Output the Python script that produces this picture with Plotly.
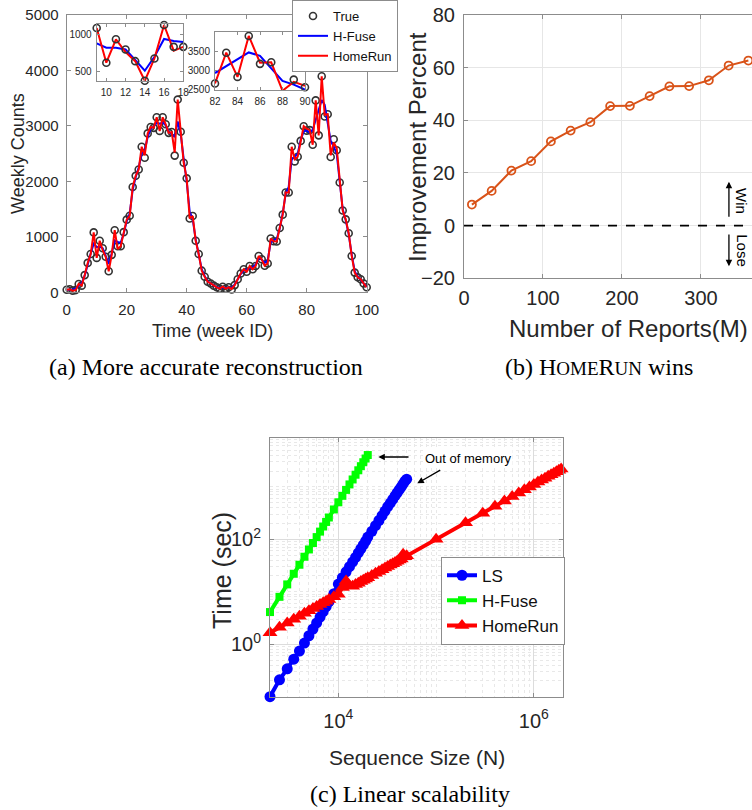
import plotly.graph_objects as go

W, H = 752, 810

# ---------------- data: panel (a) ----------------
weeks = list(range(101))
true_counts = [45, 55, 30, 40, 150, 120, 310, 530, 690, 1080,
               620, 930, 795, 640, 380, 675, 1120, 830, 830, 1085,
               1310, 1380, 1900, 2100, 2215, 2625, 2425, 2865, 2980, 2965,
               3155, 2910, 3155, 3030, 2875, 2890, 2465, 3475, 2895, 2335,
               2055, 1330, 1375, 930, 690, 390, 280, 190, 160, 120,
               90, 65, 100, 65, 90, 50, 130, 235, 340, 415,
               370, 475, 415, 475, 655, 595, 480, 520, 970, 920,
               915, 1160, 1400, 1800, 1800, 2625, 2360, 2445, 2730, 2995,
               2915, 2925, 2660, 3460, 2830, 3895, 3170, 3210, 2440, 2760,
               2560, 1980, 1475, 1315, 1065, 655, 355, 270, 235, 160, 90]
hfuse_counts = [45, 45, 50, 70, 120, 160, 300, 520, 700, 876,
                819, 819, 796, 655, 513, 699, 934, 907, 894, 1060,
                1280, 1420, 1850, 2080, 2250, 2500, 2560, 2800, 2950, 2990,
                3060, 3040, 3060, 3010, 2900, 2850, 2800, 3080, 2860, 2400,
                2000, 1450, 1320, 950, 680, 420, 290, 200, 160, 120,
                90, 80, 80, 75, 75, 80, 140, 240, 330, 390,
                410, 440, 450, 500, 620, 590, 530, 580, 900, 940,
                960, 1150, 1420, 1780, 1900, 2400, 2450, 2500, 2750, 2900,
                2920, 2880, 2931, 3103, 3293, 3466, 3379, 3060, 2724, 2629,
                2500, 2000, 1500, 1300, 1050, 680, 380, 280, 230, 160, 100]
homerun_counts = [45, 55, 30, 40, 150, 120, 310, 530, 690, 1080,
                  620, 930, 760, 640, 380, 675, 1120, 780, 830, 1085,
                  1310, 1380, 1900, 2100, 2215, 2625, 2470, 2865, 2980, 2965,
                  3155, 2910, 3155, 3030, 2875, 2890, 2520, 3475, 2895, 2335,
                  2055, 1330, 1375, 930, 690, 390, 280, 190, 160, 120,
                  90, 65, 100, 65, 90, 60, 130, 235, 340, 415,
                  370, 475, 415, 475, 655, 595, 480, 520, 970, 920,
                  915, 1160, 1400, 1800, 1800, 2625, 2400, 2445, 2730, 2995,
                  2950, 2925, 2660, 3460, 2830, 3895, 3200, 3210, 2470, 2700,
                  2600, 1980, 1475, 1315, 1065, 655, 355, 270, 235, 160, 90]
inset1_weeks = (9, 18)
inset2_weeks = (82, 90)

# ---------------- data: panel (b) ----------------
reports_m = [10, 35, 60, 85, 110, 135, 160, 185, 210, 235, 260, 285, 310, 335, 360]
improvement_pct = [8.0, 13.2, 20.9, 24.5, 32.0, 36.1, 39.3, 45.4, 45.5, 49.2,
                   52.9, 53.0, 55.2, 60.8, 62.7]

# ---------------- data: panel (c) ----------------
ls_n = [2000, 2500, 3000, 3500, 4000, 4500, 5000, 5500, 6000, 6500, 7000, 7500,
        8000, 9000, 10000, 11000, 12000, 13000, 14000, 15000, 16000, 17000,
        18000, 19000, 20000, 22000, 24000, 26000, 28000, 30000, 32000, 34000,
        36000, 38000, 40000, 42000, 44000, 46000, 48000, 50000]
ls_time = [0.10, 0.21, 0.34, 0.52, 0.74, 1.05, 1.45, 1.95, 2.55, 3.3, 4.2, 5.2,
           6.4, 9.2, 14, 18.5, 24, 30, 37, 45, 55, 66,
           78, 92, 110, 142, 182, 228, 282, 345, 420, 490,
           575, 670, 770, 880, 1000, 1140, 1280, 1400]
hf_n = [2000, 2500, 3000, 3500, 4000, 4500, 5000, 5500, 6000, 6500, 7000, 7500,
        8000, 9000, 10000, 11000, 12000, 13000, 14000, 15000, 16000, 17000,
        18000, 19000, 20000]
hf_time = [4.1, 8.0, 13.8, 22, 32.7, 46.5, 64, 85, 110, 140, 175, 214,
           260, 370, 507, 673, 873, 1110, 1380, 1700, 2065, 2470,
           2940, 3460, 4030]
hr_n = [2000, 2500, 3000, 3500, 4000, 4500, 5000, 5500, 6000, 6500, 7000, 7500,
        8000, 9000, 10000, 11000, 12000, 13000, 14000, 15000, 16000, 17000,
        18000, 19000, 20000, 22000, 24000, 26000, 28000, 30000, 32000, 34000,
        36000, 38000, 40000, 42000, 44000, 46000, 48000, 50000,
        100000, 200000, 300000, 400000, 500000, 600000, 700000, 800000, 900000,
        1000000, 1100000, 1200000, 1300000, 1400000, 1500000, 1600000, 1700000,
        1800000, 1900000, 2000000]
hr_time = [1.66, 2.10, 2.54, 2.98, 3.43, 3.88, 4.33, 4.79, 5.24, 5.70, 6.16, 6.62,
           7.08, 8.0, 8.95, 12, 16, 13, 12.7, 13.7, 14.6, 15.6,
           16.6, 17.5, 18.5, 20.4, 22.4, 24.3, 26.3, 28.3, 30.3, 32.2,
           34.2, 36.2, 38.2, 40.2, 42.2, 52, 46.2, 48.3,
           100, 206, 315, 426, 538, 650, 764, 879, 995,
           1112, 1228, 1346, 1463, 1581, 1700, 1820, 1938,
           2058, 2179, 2297]

# ---------------- helpers ----------------
def fx(px):
    return px / W

def fy(py):
    return 1 - py / H

SANS = "Liberation Sans, Arial, sans-serif"
SERIF = "Liberation Serif, Times New Roman, serif"
LINE = "#8c8c8c"
TXT = "#262626"


def ax_style(size, **kw):
    d = dict(showline=True, linecolor=LINE, linewidth=1, ticks="inside", ticklen=4,
             tickcolor=LINE, mirror="ticks", zeroline=False, showgrid=False,
             automargin=False,
             tickfont=dict(family=SANS, size=size, color=TXT))
    d.update(kw)
    return d


fig = go.Figure()

# panel (a) main
fig.add_trace(go.Scatter(x=weeks, y=true_counts, mode="markers", name="True",
                         marker=dict(symbol="circle-open", size=7, color="#333333",
                                     line=dict(width=1.6)),
                         xaxis="x", yaxis="y", cliponaxis=False, legend="legend"))
fig.add_trace(go.Scatter(x=weeks, y=hfuse_counts, mode="lines", name="H-Fuse",
                         line=dict(color="#0000ff", width=2),
                         xaxis="x", yaxis="y", legend="legend"))
fig.add_trace(go.Scatter(x=weeks, y=homerun_counts, mode="lines", name="HomeRun",
                         line=dict(color="#ff0000", width=2),
                         xaxis="x", yaxis="y", legend="legend"))

# insets
for (lo, hi), xa, ya in [(inset1_weeks, "x4", "y4"), (inset2_weeks, "x5", "y5")]:
    sl = slice(lo, hi + 1)
    fig.add_trace(go.Scatter(x=weeks[sl], y=hfuse_counts[sl], mode="lines",
                             line=dict(color="#0000ff", width=2), showlegend=False,
                             xaxis=xa, yaxis=ya))
    fig.add_trace(go.Scatter(x=weeks[sl], y=homerun_counts[sl], mode="lines",
                             line=dict(color="#ff0000", width=2), showlegend=False,
                             xaxis=xa, yaxis=ya))
    fig.add_trace(go.Scatter(x=weeks[sl], y=true_counts[sl], mode="markers",
                             marker=dict(symbol="circle-open", size=7, color="#333333",
                                         line=dict(width=1.6)),
                             showlegend=False, cliponaxis=False, xaxis=xa, yaxis=ya))

# panel (b)
fig.add_trace(go.Scatter(x=reports_m, y=improvement_pct, mode="lines+markers",
                         line=dict(color="#D95319", width=2),
                         marker=dict(symbol="circle-open", size=8, color="#D95319",
                                     line=dict(width=1.8)),
                         showlegend=False, xaxis="x2", yaxis="y2", cliponaxis=False))

# panel (c)
fig.add_trace(go.Scatter(x=ls_n, y=ls_time, mode="lines+markers", name="LS",
                         line=dict(color="#0000ff", width=4),
                         marker=dict(symbol="circle", size=11, color="#0000ff"),
                         xaxis="x3", yaxis="y3", cliponaxis=False, legend="legend2"))
fig.add_trace(go.Scatter(x=hf_n, y=hf_time, mode="lines+markers", name="H-Fuse",
                         line=dict(color="#00ff00", width=4),
                         marker=dict(symbol="square", size=8, color="#00ff00"),
                         xaxis="x3", yaxis="y3", cliponaxis=False, legend="legend2"))
fig.add_trace(go.Scatter(x=hr_n, y=hr_time, mode="lines+markers", name="HomeRun",
                         line=dict(color="#ff0000", width=4),
                         marker=dict(symbol="triangle-up", size=13, color="#ff0000"),
                         xaxis="x3", yaxis="y3", cliponaxis=False, legend="legend2"))

layout = dict(
    width=W, height=H, autosize=False,
    margin=dict(l=0, r=0, t=0, b=0, autoexpand=False),
    paper_bgcolor="white", plot_bgcolor="white",
    font=dict(family=SANS, color=TXT),
    # panel a
    xaxis=ax_style(15, domain=[fx(66.7), fx(366.7)], range=[0, 100], tickvals=[0, 20, 40, 60, 80, 100],
                   anchor="y", ticklabelstandoff=4),
    yaxis=ax_style(15, domain=[fy(292.3), fy(15)], range=[0, 5000], dtick=1000, anchor="x",
                   ticklabelstandoff=4),
    # panel b
    xaxis2=ax_style(20, domain=[fx(464), 1.0], range=[0, 364.6], tickvals=[0, 100, 200, 300],
                    showgrid=True, gridcolor="#e6e6e6", anchor="y2", ticklabelstandoff=2),
    yaxis2=ax_style(20, domain=[fy(278.3), fy(15)], range=[-20, 80], dtick=20, mirror=False,
                    showgrid=True, gridcolor="#e6e6e6", anchor="x2", ticklabelstandoff=4),
    # panel c
    xaxis3=ax_style(20, type="log", domain=[fx(270), fx(563.3)], range=[3.301, 6.301],
                    tickvals=[1e4, 1e6], ticktext=["10<sup>4</sup>", "10<sup>6</sup>"],
                    showgrid=True, gridcolor="#dcdcdc", anchor="y3", ticklabelstandoff=6,
                    minor=dict(dtick="D1", showgrid=True, gridcolor="#e8e8e8", griddash="dot",
                               ticks="")),
    yaxis3=ax_style(20, type="log", domain=[fy(696.7), fy(438)], range=[-1, 3.93],
                    tickvals=[1, 100], ticktext=["10<sup>0</sup>", "10<sup>2</sup>"],
                    showgrid=True, gridcolor="#dcdcdc", anchor="x3", ticklabelstandoff=4,
                    minor=dict(dtick="D1", showgrid=True, gridcolor="#e8e8e8", griddash="dot",
                               ticks="")),
    # insets
    xaxis4=ax_style(10, domain=[fx(96.7), fx(183.3)], range=[9, 18], tickvals=[10, 12, 14, 16, 18],
                    anchor="y4", ticklen=3, ticklabelstandoff=2),
    yaxis4=ax_style(10, domain=[fy(81), fy(24)], range=[377, 1133], tickvals=[500, 1000],
                    anchor="x4", ticklen=3, ticklabelstandoff=2),
    xaxis5=ax_style(10, domain=[fx(215), fx(305)], range=[82, 90], tickvals=[82, 84, 86, 88, 90],
                    anchor="y5", ticklen=3, ticklabelstandoff=2),
    yaxis5=ax_style(10, domain=[fy(90), fy(32.3)], range=[2490, 3990], tickvals=[2500, 3000, 3500],
                    anchor="x5", ticklen=3, ticklabelstandoff=2),
    legend=dict(x=fx(292), y=1.0, xanchor="left", yanchor="top", bgcolor="white",
                bordercolor=LINE, borderwidth=1, font=dict(family=SANS, size=13, color="#111111"),
                itemwidth=30, tracegroupgap=0),
    legend2=dict(x=fx(441), y=fy(556.7), xanchor="left", yanchor="top", bgcolor="white",
                 bordercolor=LINE, borderwidth=1, font=dict(family=SANS, size=17, color="#111111"),
                 itemwidth=30, tracegroupgap=0),
)
fig.update_layout(**layout)

# zero dashed line in panel b
fig.add_shape(type="line", xref="x2 domain", yref="y2", x0=0, x1=1, y0=0, y1=0,
              line=dict(color="black", width=1.6, dash="dash"))

ann = []
# axis titles
ann.append(dict(text="Weekly Counts", x=fx(18), y=fy(154), textangle=-90,
                font=dict(size=18)))
ann.append(dict(text="Time (week ID)", x=fx(212), y=fy(331), font=dict(size=18)))
ann.append(dict(text="Improvement Percent", x=fx(417), y=fy(147), textangle=-90,
                font=dict(size=24)))
ann.append(dict(text="Number of Reports(M)", x=fx(628), y=fy(329), font=dict(size=24)))
ann.append(dict(text="Time (sec)", x=fx(222), y=fy(571), textangle=-90, font=dict(size=25)))
ann.append(dict(text="Sequence Size (N)", x=fx(417), y=fy(757), font=dict(size=21)))
# captions
ann.append(dict(text="(a) More accurate reconstruction", x=fx(206), y=fy(367),
                font=dict(family=SERIF, size=24, color="black")))
ann.append(dict(text="(b) H<span style='font-size:19px'>OME</span>R<span style='font-size:19px'>UN</span> wins",
                x=fx(599), y=fy(367), font=dict(family=SERIF, size=24, color="black")))
ann.append(dict(text="(c) Linear scalability", x=fx(410), y=fy(794),
                font=dict(family=SERIF, size=24, color="black")))
for a in ann:
    a.update(xref="paper", yref="paper", showarrow=False, xanchor="center", yanchor="middle")
    a.setdefault("font", {})
    a["font"].setdefault("family", SANS)
    a["font"].setdefault("color", TXT)
    fig.add_annotation(**a)

# win / lose arrows (panel b)
fig.add_annotation(x=335.4, y=16.7, ax=335.4, ay=2.8, xref="x2", yref="y2", axref="x2", ayref="y2",
                   text="", showarrow=True, arrowhead=2, arrowsize=1, arrowwidth=1.3, arrowcolor="black")
fig.add_annotation(x=335.4, y=-15.4, ax=335.4, ay=-2.8, xref="x2", yref="y2", axref="x2", ayref="y2",
                   text="", showarrow=True, arrowhead=2, arrowsize=1, arrowwidth=1.3, arrowcolor="black")
fig.add_annotation(x=351.5, y=9.5, xref="x2", yref="y2", text="Win", textangle=90, showarrow=False,
                   font=dict(family=SANS, size=15, color="black"))
fig.add_annotation(x=351.5, y=-9.6, xref="x2", yref="y2", text="Lose", textangle=90, showarrow=False,
                   font=dict(family=SANS, size=15, color="black"))

# out of memory (panel c)
fig.add_annotation(x=fx(468), y=fy(458), xref="paper", yref="paper", text="Out of memory",
                   showarrow=False, bgcolor="white", font=dict(family=SANS, size=13, color="black"))
fig.add_annotation(x=fx(378.3), y=fy(457), xref="paper", yref="paper", ax=31.7, ay=0, text="",
                   showarrow=True, arrowhead=2, arrowsize=1, arrowwidth=1.3, arrowcolor="black")
fig.add_annotation(x=fx(417.3), y=fy(483.3), xref="paper", yref="paper", ax=24.4, ay=-14, text="",
                   showarrow=True, arrowhead=2, arrowsize=1, arrowwidth=1.3, arrowcolor="black")

fig.write_html("out.html", config={"displayModeBar": False},
               post_script="document.body.style.margin='0';document.body.style.overflow='hidden';")
